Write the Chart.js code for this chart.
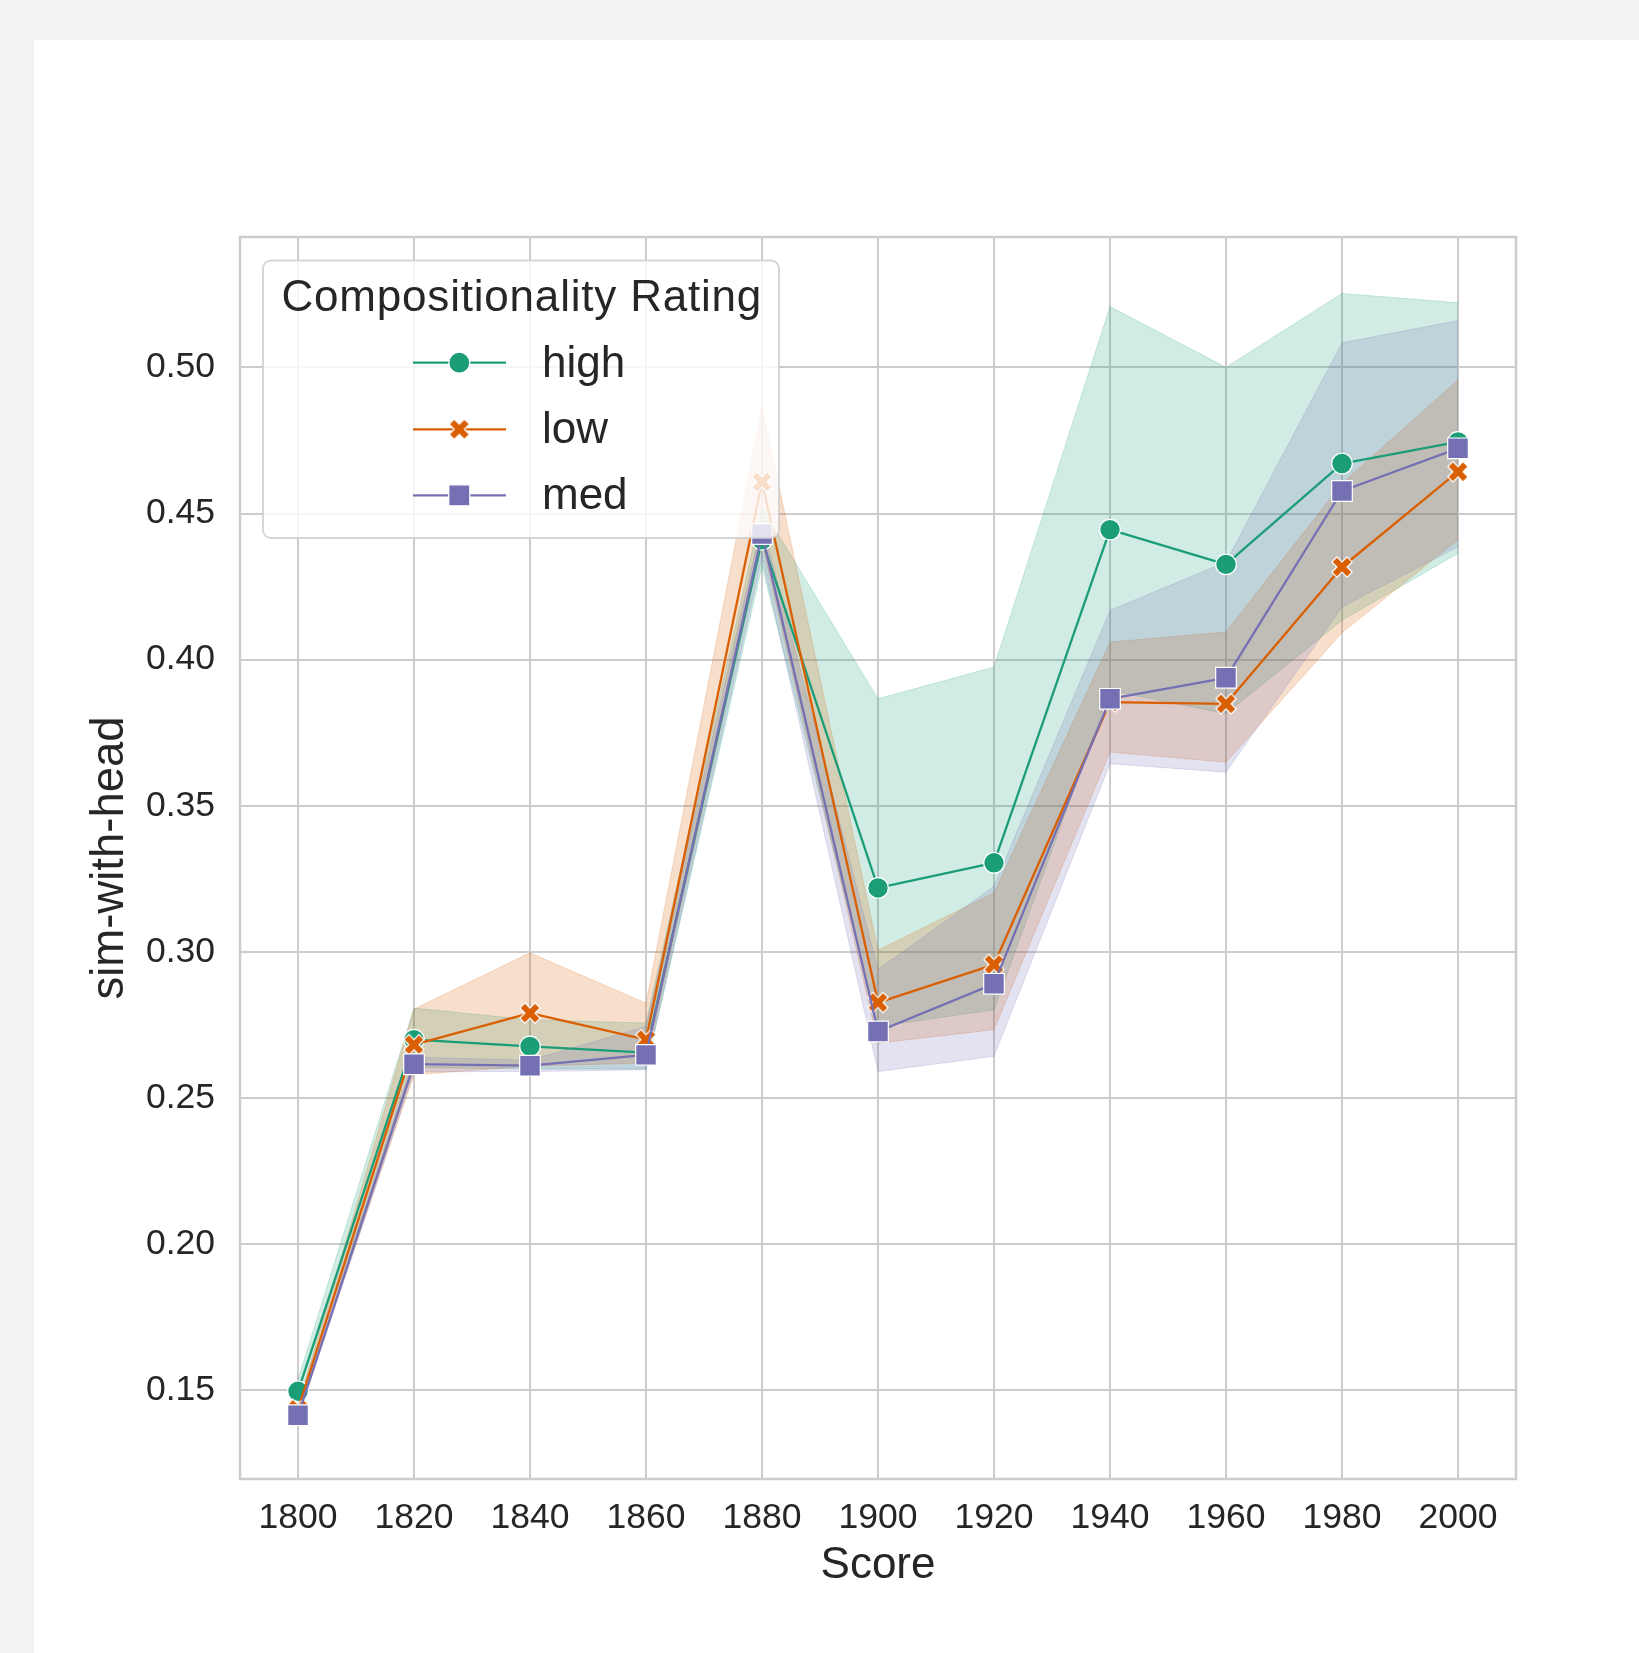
<!DOCTYPE html>
<html>
<head>
<meta charset="utf-8">
<script src="https://cdn.jsdelivr.net/npm/chart.js@4.4.1/dist/chart.umd.min.js"></script>
<style>
html,body{margin:0;padding:0;background:#f1f2f4;width:1639px;height:1653px;overflow:hidden;}
#card{position:absolute;left:34px;top:40px;width:1605px;height:1613px;background:#ffffff;}
#wrap{position:absolute;left:0;top:0;width:1639px;height:1653px;}
</style>
</head>
<body>
<div id="card"></div>
<div id="wrap"><canvas id="c" width="1639" height="1653"></canvas></div>
<script>
// ---- data ----
const years = [1800, 1820, 1840, 1860, 1880, 1900, 1920, 1940, 1960, 1980, 2000];

const highMean = [0.1497, 0.2700, 0.2677, 0.2656, 0.4410, 0.3219, 0.3305, 0.4445, 0.4326, 0.4671, 0.4745];
const highLow  = [0.1460, 0.2605, 0.2600, 0.2600, 0.4320, 0.2745, 0.2802, 0.3895, 0.3815, 0.4135, 0.4363];
const highHigh = [0.1537, 0.2808, 0.2768, 0.2757, 0.4520, 0.3866, 0.3975, 0.5208, 0.5000, 0.5253, 0.5221];

const lowMean  = [0.1435, 0.2683, 0.2791, 0.2700, 0.4608, 0.2827, 0.2957, 0.3855, 0.3849, 0.4317, 0.4643];
const lowLow   = [0.1420, 0.2580, 0.2610, 0.2620, 0.4400, 0.2688, 0.2734, 0.3684, 0.3649, 0.4092, 0.4410];
const lowHigh  = [0.1450, 0.2805, 0.2997, 0.2825, 0.4865, 0.3006, 0.3202, 0.4060, 0.4095, 0.4603, 0.4957];

const medMean  = [0.1415, 0.2616, 0.2611, 0.2648, 0.4430, 0.2728, 0.2891, 0.3866, 0.3938, 0.4577, 0.4723];
const medLow   = [0.1405, 0.2590, 0.2591, 0.2597, 0.4350, 0.2591, 0.2643, 0.3644, 0.3615, 0.4180, 0.4386];
const medHigh  = [0.1425, 0.2640, 0.2630, 0.2745, 0.4470, 0.2940, 0.3225, 0.4169, 0.4334, 0.5084, 0.5160];

const seriesNames = ['high', 'low', 'med'];
const xTickValues = [1800, 1820, 1840, 1860, 1880, 1900, 1920, 1940, 1960, 1980, 2000];
const yTickValues = [0.15, 0.20, 0.25, 0.30, 0.35, 0.40, 0.45, 0.50];
const xLabel = 'Score';
const yLabel = 'sim-with-head';
const legendTitle = 'Compositionality Rating';

// ---- styles ----
const COLORS = {high: '#1b9e77', low: '#d95f02', med: '#7570b3'};
const RGB = {high: '27,158,119', low: '217,95,2', med: '117,112,179'};
const FONT = '"Liberation Sans", Arial, Helvetica, sans-serif';
const TEXT = '#262626';

function pts(arr) { return arr.map((v, i) => ({x: years[i], y: v})); }

// filled "X" marker with white edge
function makeX(color, s) {
  const c = document.createElement('canvas');
  const size = Math.ceil(s) + 6;
  c.width = size; c.height = size;
  const g = c.getContext('2d');
  const base = [[-1,-3],[1,-3],[1,-1],[3,-1],[3,1],[1,1],[1,3],[-1,3],[-1,1],[-3,1],[-3,-1],[-1,-1]];
  const a = Math.PI / 4, ca = Math.cos(a), sa = Math.sin(a);
  g.beginPath();
  base.forEach((p, i) => {
    const px = p[0] / 6 * s, py = p[1] / 6 * s;
    const rx = px * ca - py * sa + size / 2, ry = px * sa + py * ca + size / 2;
    if (i === 0) g.moveTo(rx, ry); else g.lineTo(rx, ry);
  });
  g.closePath();
  g.fillStyle = color; g.fill();
  g.lineWidth = 1.2; g.strokeStyle = '#ffffff'; g.stroke();
  return c;
}
const xMarker = makeX(COLORS.low, 21.5);

const bands = {
  high: [highLow, highHigh], low: [lowLow, lowHigh], med: [medLow, medHigh]
};
const means = {high: highMean, low: lowMean, med: medMean};
const lineStyle = {
  high: {pointStyle: 'circle', pointRadius: 10.3},
  low:  {pointStyle: xMarker, pointRadius: 11},
  med:  {pointStyle: 'rect', pointRadius: 14.6}
};
const bandOrder = {high: 12, low: 11, med: 10};
const lineOrder = {high: 2, low: 1, med: 0};

const datasets = [];
seriesNames.forEach(name => {
  const [lo, hi] = bands[name];
  datasets.push({
    label: name + ' ci lower', data: pts(lo), order: bandOrder[name],
    borderColor: 'rgba(' + RGB[name] + ',0.2)', borderWidth: 1,
    pointRadius: 0, fill: false, tension: 0
  });
  datasets.push({
    label: name + ' ci upper', data: pts(hi), order: bandOrder[name],
    borderColor: 'rgba(' + RGB[name] + ',0.2)', borderWidth: 1,
    backgroundColor: 'rgba(' + RGB[name] + ',0.2)',
    pointRadius: 0, fill: '-1', tension: 0
  });
});
seriesNames.forEach(name => {
  datasets.push({
    label: name, data: pts(means[name]), order: lineOrder[name],
    borderColor: COLORS[name], borderWidth: 2.3, fill: false, tension: 0,
    pointStyle: lineStyle[name].pointStyle, pointRadius: lineStyle[name].pointRadius,
    pointBackgroundColor: COLORS[name], pointBorderColor: '#ffffff', pointBorderWidth: 1.2
  });
});

// frame + legend drawn on top of datasets
const framePlugin = {
  id: 'frameAndLegend',
  afterDatasetsDraw(chart) {
    const ctx = chart.ctx, a = chart.chartArea;
    ctx.save();
    ctx.strokeStyle = '#cccccc';
    ctx.lineWidth = 2.5;
    ctx.strokeRect(a.left, a.top, a.right - a.left, a.bottom - a.top);

    // legend box
    const bx = 263, by = 260.5, bw = 779 - 263, bh = 538 - 260.5, r = 8;
    ctx.beginPath();
    ctx.moveTo(bx + r, by);
    ctx.arcTo(bx + bw, by, bx + bw, by + bh, r);
    ctx.arcTo(bx + bw, by + bh, bx, by + bh, r);
    ctx.arcTo(bx, by + bh, bx, by, r);
    ctx.arcTo(bx, by, bx + bw, by, r);
    ctx.closePath();
    ctx.fillStyle = 'rgba(255,255,255,0.8)';
    ctx.fill();
    ctx.strokeStyle = 'rgba(204,204,204,0.8)';
    ctx.lineWidth = 2;
    ctx.stroke();

    ctx.fillStyle = TEXT;
    ctx.font = '44px ' + FONT;
    ctx.textAlign = 'left';
    ctx.textBaseline = 'alphabetic';
    if ('letterSpacing' in ctx) ctx.letterSpacing = '0.8px';
    ctx.fillText(legendTitle, 281.5, 311);
    if ('letterSpacing' in ctx) ctx.letterSpacing = '0px';

    const rowsY = [362.7, 429.3, 495.3];
    seriesNames.forEach((name, i) => {
      const y = rowsY[i];
      ctx.strokeStyle = COLORS[name];
      ctx.lineWidth = 2.3;
      ctx.beginPath(); ctx.moveTo(413, y); ctx.lineTo(506, y); ctx.stroke();
      const mx = 459.3;
      ctx.fillStyle = COLORS[name];
      ctx.strokeStyle = '#ffffff';
      ctx.lineWidth = 1.2;
      if (name === 'high') {
        ctx.beginPath(); ctx.arc(mx, y, 10.5, 0, Math.PI * 2); ctx.fill(); ctx.stroke();
      } else if (name === 'med') {
        ctx.beginPath(); ctx.rect(mx - 10.5, y - 10.5, 21, 21); ctx.fill(); ctx.stroke();
      } else {
        ctx.drawImage(xMarker, mx - xMarker.width / 2, y - xMarker.height / 2);
      }
      ctx.fillStyle = TEXT;
      ctx.font = '44px ' + FONT;
      ctx.fillText(name, 542, y + 14);
    });
    ctx.restore();
  }
};

new Chart(document.getElementById('c'), {
  type: 'line',
  data: {datasets},
  plugins: [framePlugin],
  options: {
    responsive: false,
    animation: false,
    devicePixelRatio: 1,
    layout: {padding: {left: 0, right: 123, top: 237, bottom: 0}},
    plugins: {legend: {display: false}, tooltip: {enabled: false}},
    elements: {line: {borderJoinStyle: 'round', borderCapStyle: 'round'}},
    scales: {
      x: {
        type: 'linear', min: 1790, max: 2010,
        afterBuildTicks(s) { s.ticks = xTickValues.map(v => ({value: v})); },
        afterFit(s) { s.height = 174; },
        grid: {color: '#cccccc', lineWidth: 2, drawTicks: false},
        border: {display: false},
        ticks: {
          padding: 18, color: TEXT, maxRotation: 0, autoSkip: false,
          font: {family: FONT, size: 35.5},
          callback: v => String(v)
        },
        title: {display: true, text: xLabel, color: TEXT,
          font: {family: FONT, size: 44}, padding: {top: 0, bottom: 61}}
      },
      y: {
        type: 'linear', min: 0.1197, max: 0.5446,
        afterBuildTicks(s) { s.ticks = yTickValues.map(v => ({value: v})); },
        afterFit(s) { s.width = 240; },
        grid: {color: '#cccccc', lineWidth: 2, drawTicks: false},
        border: {display: false},
        ticks: {
          padding: 25, color: TEXT, autoSkip: false,
          font: {family: FONT, size: 35.5},
          callback: v => Number(v).toFixed(2)
        },
        title: {display: true, text: yLabel, color: TEXT,
          font: {family: FONT, size: 45.5}, padding: {top: 83, bottom: 0}}
      }
    }
  }
});
</script>
</body>
</html>
